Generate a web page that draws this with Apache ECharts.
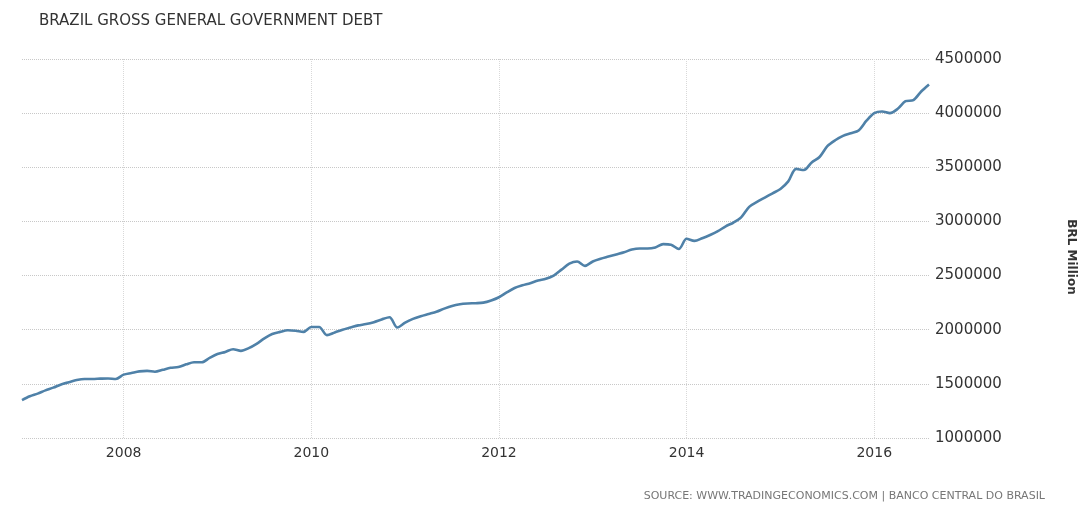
<!DOCTYPE html>
<html>
<head>
<meta charset="utf-8">
<script src="https://cdn.jsdelivr.net/npm/echarts@6/dist/echarts.min.js"></script>
<style>html,body{margin:0;padding:0;background:#fff}#c{width:1078px;height:506px}</style>
</head>
<body>
<div id="c"></div>
<script>
// Monthly categories Dec 2006 .. Aug 2016
const startYear = 2006, startMonth = 12, monthCount = 117;
const months = [];
for (let k = 0; k < monthCount; k++) {
  const m0 = startMonth - 1 + k;
  const y = startYear + Math.floor(m0 / 12);
  const m = (m0 % 12) + 1;
  months.push(y + '-' + (m < 10 ? '0' + m : '' + m));
}
// Gross general government debt, BRL million
const debt = [
  1350000, // 2006-12
  1385000,1410000,1440000,1465000,1495000,1515000,1535000,1545000,1545000,1548000,1550000,1545000, // 2007
  1585000,1600000,1615000,1620000,1612000,1630000,1648000,1655000,1680000,1700000,1700000,1740000, // 2008
  1775000,1795000,1820000,1805000,1830000,1870000,1920000,1960000,1980000,1995000,1990000,1980000, // 2009
  2025000,2025000,1950000,1975000,2000000,2020000,2040000,2052000,2070000,2095000,2115000,2020000, // 2010
  2065000,2100000,2125000,2145000,2165000,2195000,2220000,2235000,2242000,2245000,2250000,2270000, // 2011
  2300000,2345000,2385000,2410000,2430000,2455000,2470000,2500000,2555000,2610000,2630000,2590000, // 2012
  2630000,2655000,2675000,2695000,2715000,2740000,2750000,2750000,2760000,2790000,2785000,2745000, // 2013
  2840000,2820000,2845000,2875000,2910000,2955000,2990000,3040000,3135000,3180000,3220000,3260000, // 2014
  3300000,3370000,3485000,3475000,3545000,3595000,3695000,3750000,3790000,3815000,3840000,3930000, // 2015
  4000000,4015000,4000000,4040000,4110000,4120000,4200000,4265000 // 2016 Jan-Aug
];
const yMin = 1000000, yMax = 4500000, yStep = 500000;
const titleText = 'BRAZIL GROSS GENERAL GOVERNMENT DEBT';
const unitText = 'BRL Million';
const sourceText = 'SOURCE: WWW.TRADINGECONOMICS.COM | BANCO CENTRAL DO BRASIL';

const isTickMonth = (idx, val) => {
  const v = months[idx];
  return v.slice(5) === '01' && (+v.slice(0, 4)) % 2 === 0;
};

const chart = echarts.init(document.getElementById('c'), null, {renderer: 'canvas'});
chart.setOption({
  animation: false,
  backgroundColor: '#ffffff',
  title: {
    text: titleText, left: 34, top: 9,
    textStyle: {fontFamily: 'DejaVu Sans', fontSize: 15, fontWeight: 'normal', color: '#333'}
  },
  grid: {left: 22, right: 149, top: 59, bottom: 68, containLabel: false, outerBoundsMode: 'none'},
  xAxis: {
    type: 'category', data: months, boundaryGap: false,
    axisLine: {show: false}, axisTick: {show: false},
    axisLabel: {
      interval: isTickMonth,
      formatter: v => v.slice(0, 4),
      fontFamily: 'DejaVu Sans', fontSize: 14, color: '#333', margin: 8
    },
    splitLine: {show: true, interval: isTickMonth, lineStyle: {color: '#d9d9d9', type: 'dotted', width: 1}}
  },
  yAxis: {
    type: 'value', position: 'right', min: yMin, max: yMax, interval: yStep,
    axisLine: {show: false}, axisTick: {show: false},
    axisLabel: {fontFamily: 'DejaVu Sans', fontSize: 15, color: '#333', margin: 6, formatter: v => String(v)},
    splitLine: {show: true, lineStyle: {color: '#c8c8c8', type: 'dotted', width: 1}}
  },
  series: [{
    type: 'line', data: debt, showSymbol: false, smooth: 0.3,
    lineStyle: {color: '#4f81a8', width: 2.6}
  }],
  graphic: [{
    type: 'text', x: 1071, y: 257, rotation: -Math.PI / 2,
    style: {text: unitText, fontFamily: 'DejaVu Sans', fontSize: 12, fontWeight: 'bold', fill: '#333',
            textAlign: 'center', textVerticalAlign: 'middle'}
  }, {
    type: 'text', right: 33, top: 491,
    style: {text: sourceText, fontFamily: 'DejaVu Sans', fontSize: 11, fill: '#777'}
  }]
});
</script>
</body>
</html>
